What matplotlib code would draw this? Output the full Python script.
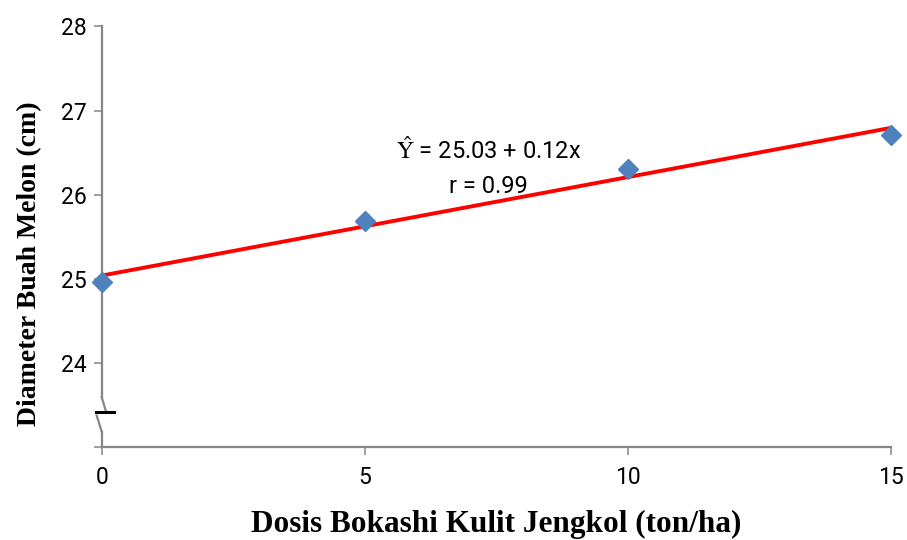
import numpy as np
import matplotlib
matplotlib.use("Agg")
import matplotlib.pyplot as plt

# data
dosis = [0, 5, 10, 15]
diameter = [24.96, 25.69, 26.30, 26.71]
yticks = [23, 24, 25, 26, 27, 28]
ytick_labels = ["", "24", "25", "26", "27", "28"]
xticks = [0, 5, 10, 15]
eq_text = "$\\hat{\\mathrm{Y}}$ = 25.03 + 0.12x"
r_text = "r = 0.99"

axis_grey = "#868686"
sans = "Roboto"
serif = "Liberation Serif"
plt.rcParams["mathtext.fontset"] = "stix"

fig = plt.figure(figsize=(9.07, 5.40), dpi=100)
ax = fig.add_axes([101.7 / 907, 1 - 446.7 / 540, (891 - 101.7) / 907, (446.7 - 26.5) / 540])

# trend line from the points
slope, inter = np.polyfit(dosis, diameter, 1)
xs = np.array([0, 15])
ax.plot(xs, inter + slope * xs, color="#FF0000", lw=2.8, zorder=2, solid_capstyle="butt")
ax.plot(dosis, diameter, linestyle="none", marker="D", ms=10.5, color="#4F81BD",
        markeredgecolor="#4F81BD", zorder=3, clip_on=False)

ax.set_xlim(0, 15)
ax.set_ylim(23, 28)
ax.set_xticks(xticks)
ax.set_yticks(yticks)
ax.set_yticklabels(ytick_labels)
ax.tick_params(axis="both", colors=axis_grey, width=1.1, length=6, labelsize=16.5,
               labelcolor="black")
ax.tick_params(axis="x", pad=8)
ax.tick_params(axis="y", pad=5)
for lab in ax.get_xticklabels() + ax.get_yticklabels():
    lab.set_fontfamily(sans)

for s in ["top", "right"]:
    ax.spines[s].set_visible(False)
ax.spines["bottom"].set_color(axis_grey)
ax.spines["bottom"].set_linewidth(1.6)
ax.spines["left"].set_color(axis_grey)
ax.spines["left"].set_linewidth(1.6)
ax.spines["left"].set_bounds(23.59, 28)

# axis break symbol (x in pixels from the axis, y in data)
ppx = 15 / (891 - 101.7)
ax.plot([0, 0], [23, 23.18], color=axis_grey, lw=1.6, clip_on=False)
ax.plot([0, 4 * ppx], [23.59, 23.43], color=axis_grey, lw=1.6, clip_on=False)
ax.plot([-6 * ppx, 12 * ppx], [23.41, 23.41], color="black", lw=2.2, clip_on=False)
ax.plot([-5 * ppx, 0], [23.37, 23.18], color=axis_grey, lw=1.6, clip_on=False)

ax.text(0.4905, 0.705, eq_text, transform=ax.transAxes, ha="center", va="center",
        fontsize=17, family=sans)
ax.text(0.4905, 0.62, r_text, transform=ax.transAxes, ha="center", va="center",
        fontsize=17, family=sans)

ax.set_xlabel("Dosis Bokashi Kulit Jengkol (ton/ha)", fontsize=22.5, fontweight="bold",
              family=serif, labelpad=15)
ax.set_ylabel("Diameter Buah Melon (cm)", fontsize=20, fontweight="bold",
              family=serif)
ax.yaxis.set_label_coords(-0.076, 0.435)

fig.savefig("out.png", dpi=100)
